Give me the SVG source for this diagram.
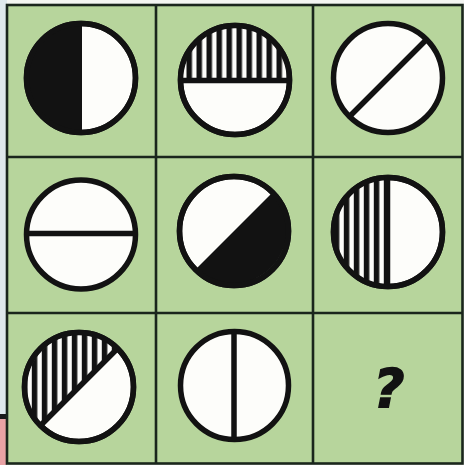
<svg xmlns="http://www.w3.org/2000/svg" width="464" height="465" viewBox="0 0 464 465">
<style>
.disc{fill:#fdfdfa;stroke:#121212;stroke-width:5.5}
.div{stroke:#121212;stroke-width:5.5;fill:none}
.solid{fill:#121212}
.grid{stroke:#1a261c;stroke-width:2.6;fill:none}
.q{font-family:"DejaVu Sans","Liberation Sans",sans-serif;font-weight:bold;font-style:italic;font-size:54px;fill:#121212;stroke:#121212;stroke-width:1.4}
</style>
<defs>
<pattern id="hatch2" patternUnits="userSpaceOnUse" x="6.5" y="0" width="10" height="10"><rect width="10" height="10" fill="#121212"/><rect x="5.5" width="4.5" height="10" fill="#fdfdfa"/></pattern>
<pattern id="hatch6" patternUnits="userSpaceOnUse" x="3.8" y="0" width="10" height="10"><rect width="10" height="10" fill="#121212"/><rect x="5.5" width="4.5" height="10" fill="#fdfdfa"/></pattern>
<pattern id="hatch7" patternUnits="userSpaceOnUse" x="1.8" y="0" width="10" height="10"><rect width="10" height="10" fill="#121212"/><rect x="5.5" width="4.5" height="10" fill="#fdfdfa"/></pattern>
</defs>
<rect x="0" y="0" width="464" height="465" fill="#f3f5f1"/>
<rect x="0" y="0" width="7" height="465" fill="#dfe9ec"/>
<rect x="0" y="414" width="7" height="5" fill="#1a1a1a"/>
<rect x="0" y="419" width="7" height="46" fill="#e8a2a4"/>
<rect x="7" y="5" width="456" height="459" fill="#b7d59c"/>
<g id="grid">
<rect class="grid" x="7" y="5" width="455.5" height="458.5"/>
<line class="grid" x1="156" y1="5" x2="156" y2="464"/>
<line class="grid" x1="313" y1="5" x2="313" y2="464"/>
<line class="grid" x1="7" y1="157" x2="463" y2="157"/>
<line class="grid" x1="7" y1="313" x2="463" y2="313"/>
</g>
<g id="cell-1-1">
<circle class="disc" cx="81" cy="78" r="54.5"/>
<path class="solid" d="M82,23.5 A54.5,54.5 0 0 0 82,132.5 Z"/>
<circle class="div" cx="81" cy="78" r="54.5"/>
</g>
<g id="cell-1-2">
<circle class="disc" cx="235" cy="80" r="54.5"/>
<path d="M180.5,80 A54.5,54.5 0 0 1 289.5,80 Z" fill="url(#hatch2)"/>
<circle class="div" cx="235" cy="80" r="54.5"/>
<line class="div" x1="180.5" y1="80.5" x2="289.5" y2="80.5"/>
</g>
<g id="cell-1-3">
<circle class="disc" cx="388" cy="78" r="54.5"/>
<line class="div" x1="349.5" y1="116.5" x2="426.5" y2="39.5"/>
</g>
<g id="cell-2-1">
<circle class="disc" cx="81" cy="234.5" r="54.5"/>
<line class="div" x1="26.5" y1="233.5" x2="135.5" y2="233.5"/>
</g>
<g id="cell-2-2">
<circle class="disc" cx="234" cy="231" r="54.5"/>
<path class="solid" d="M272.5,192.5 A54.5,54.5 0 0 1 195.5,269.5 Z"/>
<circle class="div" cx="234" cy="231" r="54.5"/>
</g>
<g id="cell-2-3">
<circle class="disc" cx="388" cy="232" r="54.5"/>
<path d="M388,177.5 A54.5,54.5 0 0 0 388,286.5 Z" fill="url(#hatch6)"/>
<circle class="div" cx="388" cy="232" r="54.5"/>
<line class="div" x1="387.5" y1="177.5" x2="387.5" y2="286.5"/>
</g>
<g id="cell-3-1">
<circle class="disc" cx="79" cy="387" r="54.5"/>
<path d="M40.5,425.5 A54.5,54.5 0 0 1 117.5,348.5 Z" fill="url(#hatch7)"/>
<circle class="div" cx="79" cy="387" r="54.5"/>
<line class="div" x1="40.5" y1="425.5" x2="117.5" y2="348.5"/>
</g>
<g id="cell-3-2">
<circle class="disc" cx="234.5" cy="385.5" r="54"/>
<line class="div" x1="234" y1="331.5" x2="234" y2="439.5"/>
</g>
<g id="cell-3-3">
<text class="q" x="389" y="407" text-anchor="middle">?</text>
</g>
</svg>
